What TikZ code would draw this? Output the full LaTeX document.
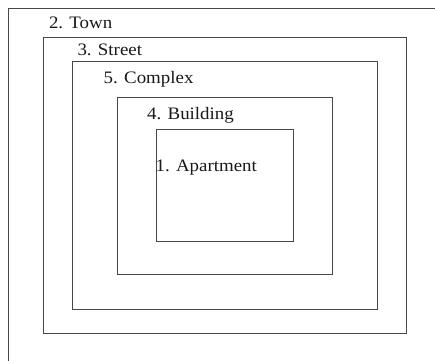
\documentclass[tikz,border=0pt]{standalone}
\usepackage{fontspec}
\setmainfont[FakeStretch=1.08]{Liberation Serif}
\begin{document}
\begin{tikzpicture}[x=1pt,y=-1pt,
  boxline/.style={draw=black!72,line width=0.9pt},
  lbl/.style={anchor=base west,inner sep=0pt,font=\fontsize{17.5}{20}\selectfont,text=black!90}]
\useasboundingbox[fill=white] (0,0) rectangle (435,360);
\begin{scope}
\clip (0,0) rectangle (435,360);
\draw[boxline] (8,370) -- (8,8) -- (445,8);
\end{scope}
\draw[boxline] (43,37) rectangle (406,333);
\draw[boxline] (72,61) rectangle (377,309);
\draw[boxline] (117,97) rectangle (332,274);
\draw[boxline] (156,129) rectangle (293,241);
\node[lbl] (town) at (48.8,28.3) {2. Town};
\node[lbl] (street) at (77.3,55) {3. Street};
\node[lbl] (complex) at (103.5,83) {5. Complex};
\node[lbl] (building) at (147,119.5) {4. Building};
\node[lbl] (apartment) at (155.4,171.7) {1. Apartment};
\end{tikzpicture}
\end{document}
